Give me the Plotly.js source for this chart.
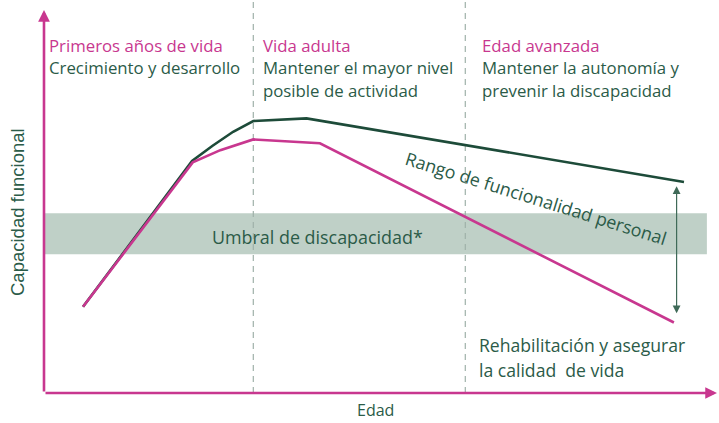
<!DOCTYPE html>
<html>
<head>
<meta charset="utf-8">
<script src="https://cdn.plot.ly/plotly-3.0.1.min.js"></script>
<style>
  html, body { margin: 0; padding: 0; background: #fff; }
  #chart { width: 719px; height: 423px; }
</style>
</head>
<body>
<div id="chart"></div>
<script>
// edad (arbitrary units 0-100) and capacidad funcional (0-100)
var edadAlta = [5.8, 22.0, 25.0, 28.1, 31.1, 39.0, 95.1];
var capacidadAlta = [22.5, 60.6, 64.5, 68.2, 71.0, 71.7, 55.1];

var edadBaja = [5.8, 22.1, 26.2, 31.1, 41.0, 93.6];
var capacidadBaja = [22.5, 60.2, 63.4, 66.2, 65.2, 18.4];

var limitesEtapas = [31.1, 62.6];           // dashed dividers
var umbral = [36.2, 46.9];                   // disability threshold band
var rangoPersonal = [54.0, 20.4];            // double arrow ends at edad 94

var magenta = '#C8378F';
var verde = '#1D4B39';
var verdeTexto = '#2B5B48';
var fuente = 'Open Sans, sans-serif';

var traces = [
  {x: edadAlta, y: capacidadAlta, mode: 'lines', line: {color: verde, width: 2.6}, hoverinfo: 'skip'},
  {x: edadBaja, y: capacidadBaja, mode: 'lines', line: {color: magenta, width: 2.6}, hoverinfo: 'skip'}
];

var shapes = [
  {type: 'rect', xref: 'x', yref: 'y', x0: 0, x1: 98.5, y0: umbral[0], y1: umbral[1],
   fillcolor: '#BFD0C7', line: {width: 0}, layer: 'below'}
];
limitesEtapas.forEach(function (e) {
  shapes.push({type: 'line', xref: 'x', yref: 'y', x0: e, x1: e, y0: 0, y1: 102.6,
    line: {color: '#9FB1A9', width: 1.2, dash: '6px,5px'}, layer: 'below'});
});

function txt(x, y, s, color, size, extra) {
  var a = {xref: 'x', yref: 'y', x: x, y: y, text: s, showarrow: false,
    xanchor: 'left', yanchor: 'middle', font: {family: fuente, size: size || 16.8, color: color}};
  for (var k in extra) a[k] = extra[k];
  return a;
}

var annotations = [
  // axes as arrows
  {xref: 'x', yref: 'y', axref: 'x', ayref: 'y', x: 0, y: 100, ax: 0, ay: 0, text: '',
   showarrow: true, arrowhead: 2, arrowsize: 0.9, arrowwidth: 2.6, arrowcolor: magenta},
  {xref: 'x', yref: 'y', axref: 'x', ayref: 'y', x: 100, y: 0, ax: 0, ay: 0, text: '',
   showarrow: true, arrowhead: 2, arrowsize: 0.9, arrowwidth: 2.6, arrowcolor: magenta},
  // personal range double arrow
  {xref: 'x', yref: 'y', axref: 'x', ayref: 'y', x: 94.0, y: rangoPersonal[0], ax: 94.0, ay: rangoPersonal[1], text: '',
   showarrow: true, arrowside: 'end+start', arrowhead: 2, startarrowhead: 2, arrowsize: 1.3, startarrowsize: 1.3,
   arrowwidth: 1.2, arrowcolor: '#3F6A58'},

  txt(0.4, 90.6, 'Primeros años de vida', magenta),
  txt(0.4, 84.9, 'Crecimiento y desarrollo', verdeTexto),
  txt(32.3, 90.6, 'Vida adulta', magenta),
  txt(32.3, 84.9, 'Mantener el mayor nivel', verdeTexto),
  txt(32.3, 79.1, 'posible de actividad', verdeTexto),
  txt(64.8, 90.6, 'Edad avanzada', magenta),
  txt(64.8, 84.9, 'Mantener la autonomía y', verdeTexto),
  txt(64.8, 79.1, 'prevenir la discapacidad', verdeTexto),
  txt(40.7, 40.6, 'Umbral de discapacidad*', verdeTexto, 17.9, {xanchor: 'center'}),
  txt(73.1, 51.0, 'Rango de funcionalidad personal', verdeTexto, 17.8, {xanchor: 'center', textangle: 17.3}),
  txt(64.4, 12.6, 'Rehabilitación y asegurar', verdeTexto, 17.6),
  txt(64.4, 6.0, 'la calidad  de vida', verdeTexto, 17.6),
  {xref: 'paper', yref: 'paper', x: (375 - 44) / 675, y: -(410 - 393) / 393, text: 'Edad', showarrow: false,
   xanchor: 'center', yanchor: 'middle', borderpad: 0, font: {family: fuente, size: 16, color: verdeTexto}},
  {xref: 'paper', yref: 'paper', x: -(44 - 18) / 675, y: (393 - 212) / 393, text: 'Capacidad funcional', showarrow: false,
   xanchor: 'center', yanchor: 'middle', textangle: -90, font: {family: 'Liberation Sans, Arial, sans-serif', size: 18.5, color: verdeTexto}}
];

var layout = {
  width: 719, height: 423,
  margin: {l: 44, r: 0, t: 0, b: 30},
  paper_bgcolor: '#fff', plot_bgcolor: '#fff',
  showlegend: false,
  xaxis: {range: [0, 100.3], visible: false, fixedrange: true},
  yaxis: {range: [0, 102.6], visible: false, fixedrange: true},
  shapes: shapes,
  annotations: annotations
};

Plotly.newPlot('chart', traces, layout, {displayModeBar: false, staticPlot: true});
</script>
</body>
</html>
